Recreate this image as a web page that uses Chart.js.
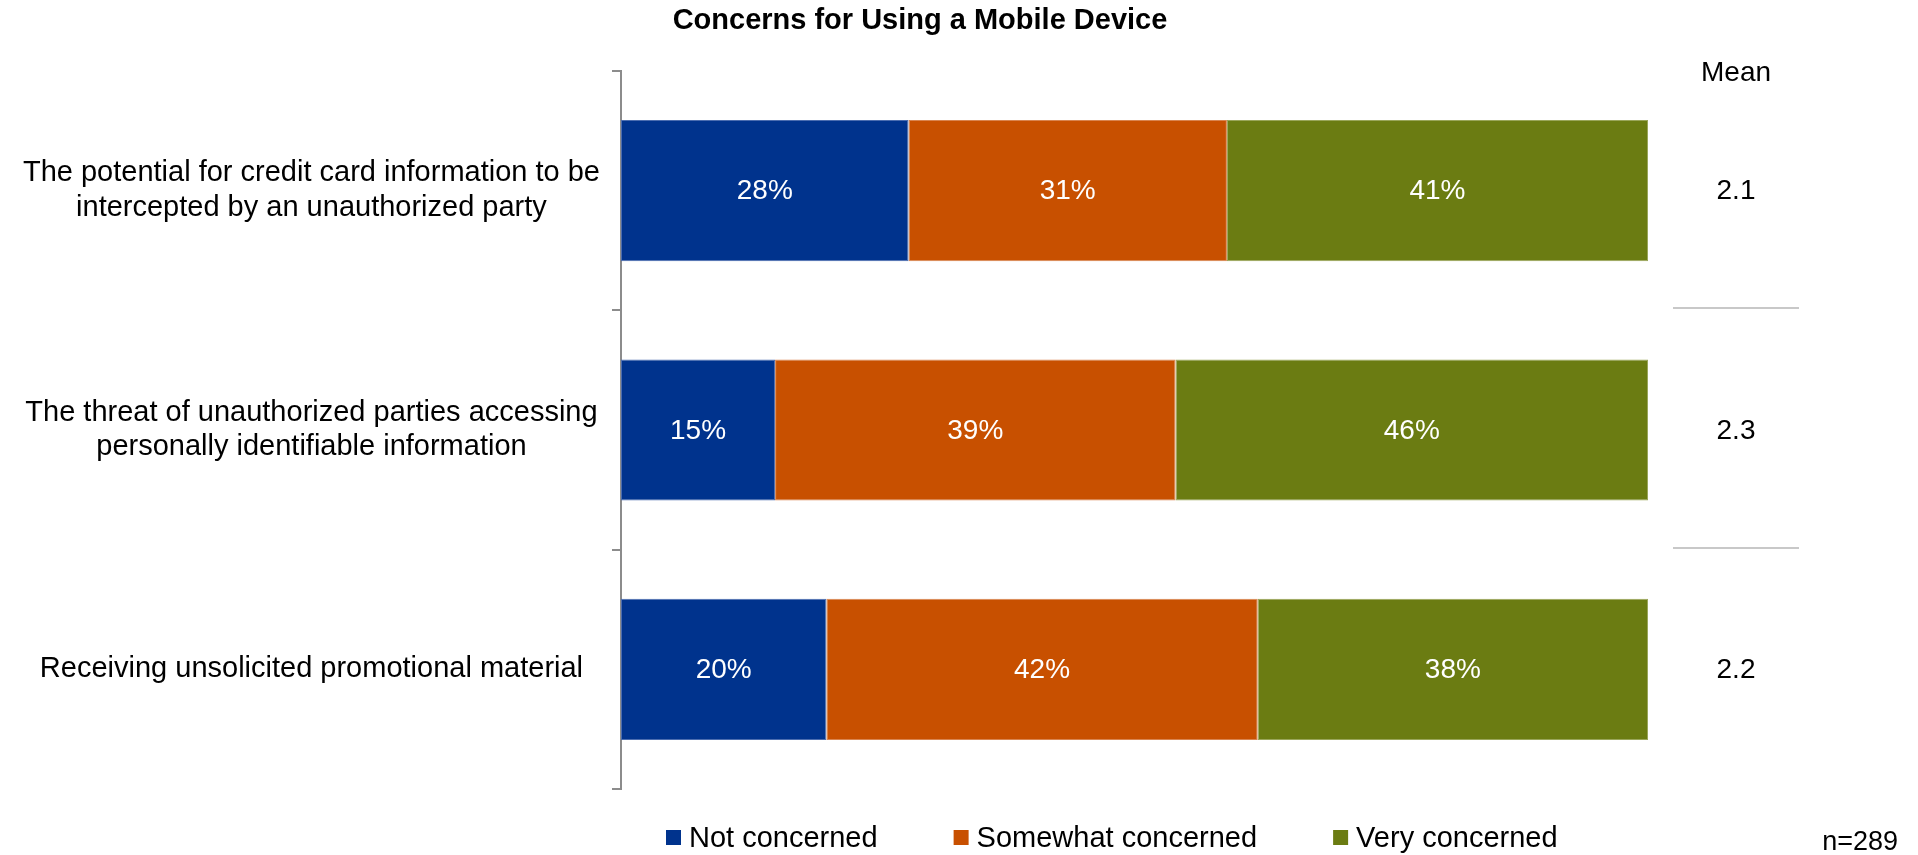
<!DOCTYPE html>
<html>
<head>
<meta charset="utf-8">
<title>Concerns for Using a Mobile Device</title>
<script src="https://cdn.jsdelivr.net/npm/chart.js@4"></script>
<style>
  html, body { margin: 0; padding: 0; background: #fff; }
  #wrap { width: 1918px; height: 855px; position: relative; }
</style>
</head>
<body>
<div id="wrap"><canvas id="myChart"></canvas></div>
<script>
let concerns = [
  ["The potential for credit card information to be", "intercepted by an unauthorized party"],
  ["The threat of unauthorized parties accessing", "personally identifiable information"],
  ["Receiving unsolicited promotional material"]
];
let notConcerned = [28, 15, 20];
let somewhatConcerned = [31, 39, 42];
let veryConcerned = [41, 46, 38];
let means = ["2.1", "2.3", "2.2"];
let sampleSize = "n=289";

const FONT = "'Liberation Sans', Arial, sans-serif";

// percent labels inside each bar segment
const barLabels = {
  id: "barLabels",
  afterDatasetsDraw(chart) {
    let c = chart.ctx;
    c.save();
    c.font = "28px " + FONT;
    c.fillStyle = "#fff";
    c.textAlign = "center";
    c.textBaseline = "middle";
    chart.data.datasets.forEach((ds, i) => {
      chart.getDatasetMeta(i).data.forEach((bar, j) => {
        let mid = (bar.x + bar.base) / 2;
        c.fillText(ds.data[j] + "%", mid, bar.y + 1);
      });
    });
    c.restore();
  }
};

// title, mean column, sample size and legend
const extras = {
  id: "extras",
  afterDraw(chart) {
    let c = chart.ctx;
    let area = chart.chartArea;
    let y = chart.scales.y;
    let meanX = area.right + 88;
    c.save();
    c.fillStyle = "#000";
    c.textBaseline = "middle";

    c.font = "bold 29px " + FONT;
    c.textAlign = "center";
    c.fillText("Concerns for Using a Mobile Device", 920, 21);

    c.font = "28px " + FONT;
    c.fillText("Mean", meanX, 73);
    means.forEach((m, i) => {
      c.fillText(m, meanX, y.getPixelForValue(i) + 1);
    });

    // separators between mean values
    c.strokeStyle = "#c8c8c8";
    c.lineWidth = 2;
    for (let i = 0; i < means.length - 1; i++) {
      let sy = Math.round((y.getPixelForValue(i) + y.getPixelForValue(i + 1)) / 2) - 2;
      c.beginPath();
      c.moveTo(meanX - 63, sy);
      c.lineTo(meanX + 63, sy);
      c.stroke();
    }

    c.font = "27px " + FONT;
    c.textAlign = "right";
    c.fillText(sampleSize, 1898, 843);

    // legend
    c.font = "29px " + FONT;
    c.textAlign = "left";
    let lx = 666;
    chart.data.datasets.forEach(ds => {
      c.fillStyle = ds.backgroundColor;
      c.fillRect(lx, 830, 15, 15);
      c.fillStyle = "#000";
      c.fillText(ds.label, lx + 23, 839);
      lx += 23 + c.measureText(ds.label).width + 76;
    });
    c.restore();
  }
};

let ctx = document.getElementById("myChart");
let myBarChart = new Chart(ctx, {
  type: "bar",
  data: {
    labels: concerns,
    datasets: [
      { label: "Not concerned", data: notConcerned, backgroundColor: "#00338d", borderColor: "#4b6db0" },
      { label: "Somewhat concerned", data: somewhatConcerned, backgroundColor: "#c85000", borderColor: "#d98550" },
      { label: "Very concerned", data: veryConcerned, backgroundColor: "#6b7c12", borderColor: "#9aa65a" }
    ]
  },
  options: {
    indexAxis: "y",
    responsive: true,
    maintainAspectRatio: false,
    animation: false,
    layout: { padding: { top: 71, bottom: 66, left: 0, right: 270 } },
    datasets: {
      bar: { categoryPercentage: 1, barPercentage: 0.59, borderWidth: 1, borderSkipped: false }
    },
    scales: {
      x: { stacked: true, min: 0, max: 100, display: false },
      y: {
        stacked: true,
        afterFit: s => { s.width = 621; },
        border: { display: true, color: "#8c8c8c", width: 2 },
        grid: { drawOnChartArea: false, drawTicks: true, tickLength: 9, color: "#8c8c8c", lineWidth: 2 },
        ticks: {
          crossAlign: "center",
          padding: 12,
          color: "#000",
          font: { family: FONT, size: 29, lineHeight: 1.2 }
        }
      }
    },
    plugins: {
      legend: { display: false },
      title: { display: false },
      tooltip: { enabled: false }
    }
  },
  plugins: [barLabels, extras]
});
</script>
</body>
</html>
